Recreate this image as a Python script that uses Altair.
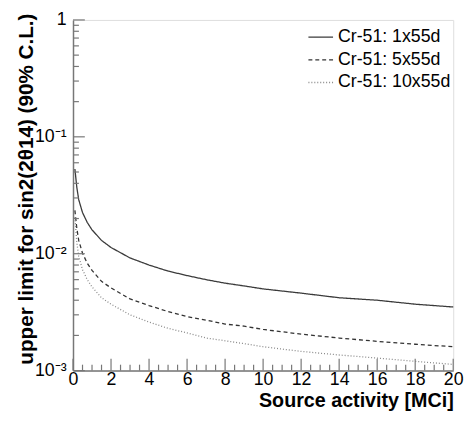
import altair as alt
import pandas as pd

# activity [MCi]
activity = [0.1, 0.2, 0.3, 0.5, 0.75, 1.0, 1.5, 2, 3, 4, 5, 6, 7, 8, 9, 10, 12, 14, 16, 18, 20]
# upper limit for sin2(2theta14) (90% C.L.)
lim_1x = [0.053, 0.037, 0.029, 0.0225, 0.0185, 0.016, 0.013, 0.0113, 0.0092, 0.008, 0.0071,
          0.0065, 0.006, 0.0056, 0.0053, 0.005, 0.0046, 0.0042, 0.004, 0.0037, 0.0035]
lim_5x = [0.0235, 0.0165, 0.013, 0.0101, 0.0083, 0.0072, 0.0058, 0.0051, 0.0041, 0.0036, 0.0032,
          0.0029, 0.0027, 0.0025, 0.0024, 0.00225, 0.00205, 0.0019, 0.00178, 0.00168, 0.0016]
lim_10x = [0.0205, 0.0125, 0.0095, 0.0073, 0.006, 0.0052, 0.0042, 0.0037, 0.003, 0.0026, 0.0023,
           0.0021, 0.0019, 0.0018, 0.0017, 0.0016, 0.00146, 0.00136, 0.00128, 0.0012, 0.00113]
series = ["Cr-51: 1x55d", "Cr-51: 5x55d", "Cr-51: 10x55d"]

x_major = [0, 2, 4, 6, 8, 10, 12, 14, 16, 18, 20]
x_minor = [v / 2 for v in range(0, 41) if v % 4 != 0]
y_major = [1, 0.1, 0.01, 0.001]
y_minor = [m * 10.0 ** e for e in (-3, -2, -1) for m in range(2, 10)]

rows = []
for name, vals in zip(series, [lim_1x, lim_5x, lim_10x]):
    for a, v in zip(activity, vals):
        rows.append({"series": name, "activity": a, "limit": v})
df = pd.DataFrame(rows)

FONT = "Liberation Sans"
GREY = "#777777"

xs = alt.Scale(domain=[0, 20], nice=False, zero=False)
ys = alt.Scale(type="log", domain=[0.001, 1], nice=False)

x_axis = alt.Axis(values=x_major, ticks=False, grid=False, labelFontSize=18,
                  labelFont=FONT, labelColor="black", labelPadding=0,
                  labelOverlap=False, labelFlush=False,
                  domainColor=GREY, domainWidth=1.5,
                  title="Source activity [MCi]", titleFont=FONT, titleFontSize=20,
                  titleFontWeight="bold", titleColor="black", titleAnchor="end",
                  titleAlign="right", titleBaseline="alphabetic",
                  titleX=386, titleY=36)
y_axis = alt.Axis(values=y_major, ticks=False, grid=False, labelFontSize=18,
                  labelFont=FONT, labelColor="black", labelPadding=7,
                  labelOverlap=False,
                  labelExpr="datum.value >= 1 ? '1' : datum.value >= 0.1 ? '10⁻¹' : datum.value >= 0.01 ? '10⁻²' : '10⁻³'",
                  domainColor=GREY, domainWidth=1.5,
                  title="upper limit for sin2(2θ14) (90% C.L.)", titleFont=FONT,
                  titleFontSize=21, titleFontWeight="bold", titleColor="black",
                  titleAngle=270, titleAlign="right", titleBaseline="alphabetic",
                  titleX=-41, titleY=-7)

legend_kw = dict(title=None, orient="none", legendX=238, legendY=4,
                 symbolType="stroke", symbolSize=625, symbolStrokeWidth=1.3,
                 labelFont=FONT, labelFontSize=18, labelColor="black",
                 labelOffset=4, rowPadding=-3, padding=0)

lines = alt.Chart(df).mark_line(strokeWidth=1.3).encode(
    x=alt.X("activity:Q", scale=xs, axis=x_axis),
    y=alt.Y("limit:Q", scale=ys, axis=y_axis),
    color=alt.Color("series:N", sort=series,
                    scale=alt.Scale(domain=series, range=["#3a3a3a", "#333333", "#888888"]),
                    legend=alt.Legend(**legend_kw)),
    strokeDash=alt.StrokeDash("series:N", sort=series,
                              scale=alt.Scale(domain=series, range=[[1, 0], [4, 3], [1, 2]]),
                              legend=alt.Legend(**legend_kw)),
)

xmaj = alt.Chart(pd.DataFrame({"v": x_major})).mark_rule(color=GREY, strokeWidth=1.2).encode(
    x=alt.X("v:Q", scale=xs, axis=x_axis), y=alt.value(356), y2=alt.value(344))
xmin = alt.Chart(pd.DataFrame({"v": x_minor})).mark_rule(color=GREY, strokeWidth=1.2).encode(
    x=alt.X("v:Q", scale=xs, axis=x_axis), y=alt.value(356), y2=alt.value(350))
ymaj = alt.Chart(pd.DataFrame({"v": y_major})).mark_rule(color=GREY, strokeWidth=1.2).encode(
    y=alt.Y("v:Q", scale=ys, axis=y_axis), x=alt.value(0), x2=alt.value(12))
ymin = alt.Chart(pd.DataFrame({"v": y_minor})).mark_rule(color=GREY, strokeWidth=1.2).encode(
    y=alt.Y("v:Q", scale=ys, axis=y_axis), x=alt.value(0), x2=alt.value(6))

chart = alt.layer(lines, xmin, xmaj, ymin, ymaj).properties(
    width=386, height=356,
    autosize=alt.AutoSizeParams(type="none"),
    padding={"left": 66, "top": 9, "right": 14, "bottom": 45},
).configure_view(stroke=GREY, strokeWidth=1.5).configure(background="white")

chart.save("out.html", embed_options={"renderer": "svg", "actions": False})
